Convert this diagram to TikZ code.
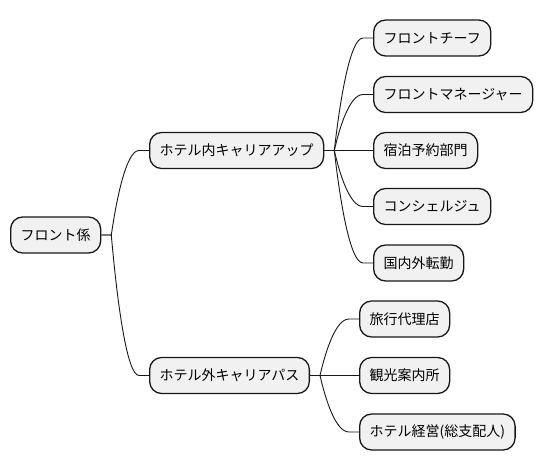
\documentclass[tikz,border=0pt]{standalone}
\usepackage{fontspec}
\setmainfont{Noto Sans CJK JP}
\usetikzlibrary{calc}
\definecolor{mmfill}{HTML}{F1F1F1}
\definecolor{mmline}{HTML}{181818}
\tikzset{
    topic/.style={draw=mmline,fill=mmfill,line width=1.3pt,rounded corners=12pt,
        minimum height=36pt,inner xsep=10pt,inner ysep=0pt,anchor=west,
        font=\fontsize{14}{16}\selectfont},
    branch/.style={draw=mmline,line width=0.9pt,
        to path={let \p1=($(\tikztostart.east)+(10,0)$), \p2=($(\tikztotarget.west)+(-10,0)$) in
            (\tikztostart.east) -- (\p1)
            .. controls ({\x1+0.2*(\x2-\x1)},{\y1+0.45*(\y2-\y1)}) and ({\x2-0.45*(\x2-\x1)},\y2) .. (\p2)
            -- (\tikztotarget.west)}},
}
\begin{document}
\begin{tikzpicture}[x=1pt,y=-1pt]
    \fill[white] (0,0) rectangle (544,471);
    \useasboundingbox (0,0) rectangle (544,471);

    \node[topic] (kakari) at (10,235) {フロント係};
    \node[topic] (uchi) at (149,150.5) {ホテル内キャリアアップ};
    \node[topic] (soto) at (149,375.5) {ホテル外キャリアパス};

    \node[topic] (u1) at (373,38) {フロントチーフ};
    \node[topic] (u2) at (373,94.5) {フロントマネージャー};
    \node[topic] (u3) at (373,150.5) {宿泊予約部門};
    \node[topic] (u4) at (373,206.5) {コンシェルジュ};
    \node[topic] (u5) at (373,263) {国内外転勤};

    \node[topic] (s1) at (359,319) {旅行代理店};
    \node[topic] (s2) at (359,375.5) {観光案内所};
    \node[topic] (s3) at (359,432) {ホテル経営(総支配人)};

    \path
    (kakari) edge[branch] (uchi)
    (kakari) edge[branch] (soto)
    (uchi) edge[branch] (u1)
    (uchi) edge[branch] (u2)
    (uchi) edge[branch] (u3)
    (uchi) edge[branch] (u4)
    (uchi) edge[branch] (u5)
    (soto) edge[branch] (s1)
    (soto) edge[branch] (s2)
    (soto) edge[branch] (s3);
\end{tikzpicture}
\end{document}
